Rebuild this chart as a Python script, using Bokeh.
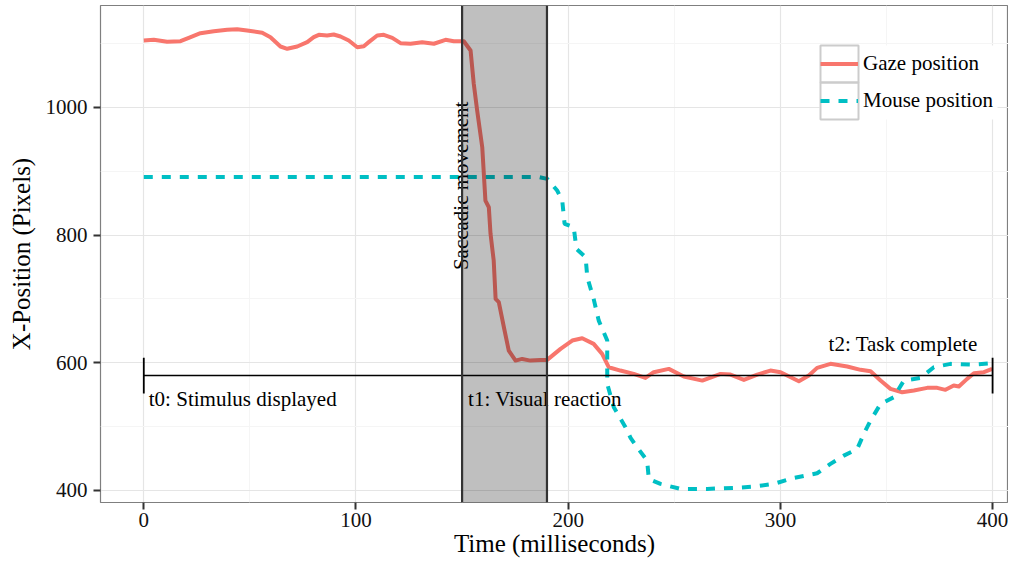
import math
from bokeh.plotting import figure
from bokeh.models import (ColumnDataSource, Legend, LegendItem, BoxAnnotation, Span,
                          Range1d, FixedTicker)
from bokeh.core.properties import value
from bokeh.embed import file_html
from bokeh.resources import INLINE

# ---------------- data ----------------
gaze_t = [0, 4.7, 11, 17.3, 21.2, 26.7, 33, 39.3, 44, 48.7, 55.8, 59.7, 64.4, 67.6, 72.3,
          77, 80.1, 82.5, 86.4, 89.5, 92.7, 96.6, 100.6, 103.7, 106, 110, 113.1, 117.1,
          121, 125.7, 131.2, 136.7, 142.2, 146.1, 149.3, 150.8, 154, 155.5, 157.1, 159.5,
          161, 162.6, 163.4, 164.9, 165.8, 167.3, 169.7, 172, 175.2, 178.3, 182.2, 186.9,
          190.1, 196.4, 201.9, 206.6, 212, 216, 219.1, 224.6, 230.9, 236.4, 240.3, 247.4,
          254.5, 263.2, 271.8, 276.5, 282.8, 289.1, 295.3, 300.1, 308.7, 313.4, 317.3,
          323.6, 331.5, 337.8, 342.5, 347.2, 351.9, 357.4, 362.9, 369.2, 373.9, 377.8,
          381.7, 384.1, 388, 391.2, 395.9, 399.8]
gaze_x = [1104.6, 1105.7, 1102.6, 1103.5, 1108.8, 1116, 1119.2, 1121.4, 1122.3, 1120.3,
          1116.7, 1109.8, 1095.2, 1091.6, 1095.2, 1102, 1109.8, 1113.5, 1112.5, 1114,
          1110.9, 1104.6, 1094.1, 1095.7, 1102, 1112.5, 1113.5, 1108.8, 1100.4, 1099.5,
          1102, 1099.5, 1105.7, 1103.5, 1103.5, 1103.5, 1089, 1036.8, 995, 937.5, 854,
          843.5, 801.9, 760, 700, 694.8, 655.6, 619, 603.4, 606, 603.4, 604.5, 604.5,
          621.8, 634.8, 638.4, 629.6, 613.9, 593, 587.8, 582.6, 576.3, 585.2, 590.4,
          578.4, 572.1, 582.6, 581.5, 573.2, 581.5, 587.8, 585.2, 571, 580, 592, 598.3,
          594.1, 588.9, 586.7, 572.1, 559.1, 553.8, 556.5, 560.7, 560.7, 557.6, 564.3,
          562.7, 574.8, 583.6, 585.2, 590.4]

mouse_t = [0, 186, 190.1, 194.8, 197.2, 198.3, 202.6, 203.9, 208.2, 209, 212, 214.4,
           218.4, 218.4, 221.5, 227, 229.4, 232.5, 237.2, 238, 243.5, 252.9, 265.5, 278,
           287.5, 296.9, 306.3, 317.3, 323.6, 329.9, 336.2, 339.3, 342.5, 347.2, 353.4,
           358.2, 366, 372.3, 380.2, 391.2, 399.8]
mouse_x = [891, 891, 888, 869.7, 854, 817.5, 812.2, 778.4, 765.2, 734, 700, 666, 634.8,
           566.9, 530.3, 499, 482.4, 467.7, 446.8, 418.1, 410.3, 402.5, 402.5, 404, 406.1,
           410.3, 419.7, 427, 441.6, 454.6, 465.1, 488.6, 509.5, 535.6, 546, 572.1, 576.3,
           593, 598.3, 597.2, 599.2]

event_t = [0, 150, 400]
event_labels = ["t0: Stimulus displayed", "t1: Visual reaction", "t2: Task complete"]
event_label_y = [544, 544, 629]
timeline_y = 580
tick_half = 28
saccade = [150, 190]
saccade_label = "Saccadic movement"
saccade_label_y = 877

x_ticks = [0, 100, 200, 300, 400]
y_ticks = [400, 600, 800, 1000]
series_labels = ["Gaze position", "Mouse position"]

RED = "#F8766D"
CYAN = "#00BFC4"
SERIF = "Liberation Serif"

# ---------------- layout geometry ----------------
W, H = 1008, 559
ML, MR, MT, MB = 100, 0, 5, 57
FW, FH = W - ML - MR, H - MT - MB
X0, X1 = -20.4, 407.5
Y0, Y1 = 381.2, 1159.4

p = figure(width=W, height=H, output_backend="svg", toolbar_location=None,
           x_range=Range1d(X0, X1), y_range=Range1d(Y0, Y1),
           min_border_left=ML, min_border_right=MR, min_border_top=MT, min_border_bottom=MB)
p.background_fill_color = "white"
p.border_fill_color = "white"
p.outline_line_color = "#7f7f7f"
p.outline_line_width = 1.2

for ax, ticks in ((p.xaxis[0], x_ticks), (p.yaxis[0], y_ticks)):
    step = ticks[1] - ticks[0]
    ax.ticker = FixedTicker(ticks=ticks,
                            minor_ticks=[t + step / 2 for t in [ticks[0] - step] + ticks])
    ax.axis_line_color = None
    ax.major_tick_line_color = "#333333"
    ax.major_tick_line_width = 2
    ax.major_tick_out = 7
    ax.major_tick_in = 0
    ax.minor_tick_line_color = None
    ax.major_label_text_font = SERIF
    ax.major_label_text_font_size = "21px"
    ax.major_label_text_color = "#111111"
    ax.axis_label_text_font = SERIF
    ax.axis_label_text_font_size = "25px"
    ax.axis_label_text_font_style = "normal"
    ax.axis_label_text_color = "black"

p.xaxis.axis_label = "Time (milliseconds)"
p.yaxis.axis_label = "X-Position (Pixels)"
p.xaxis.major_label_standoff = 3
p.xaxis.axis_label_standoff = 0
p.yaxis.major_label_standoff = 6
p.yaxis.axis_label_standoff = 8

p.grid.grid_line_color = "#e5e5e5"
p.grid.grid_line_width = 1.2
p.grid.minor_grid_line_color = "#f5f5f5"
p.grid.minor_grid_line_width = 1

# legend background + key boxes (glyph level, above grid)
def sx2data(px):
    return X0 + px / FW * (X1 - X0)

def sy2data(py_from_bottom):
    return Y0 + py_from_bottom / FH * (Y1 - Y0)

LEG_X, LEG_Y, KW, KH = 720, 383, 38, 37
p.rect(x=[sx2data(LEG_X + 88)], y=[sy2data(LEG_Y + KH)], width=178, height=2 * KH,
       width_units="screen", height_units="screen", fill_color="white", line_color=None)
p.rect(x=[sx2data(LEG_X + KW / 2)] * 2,
       y=[sy2data(LEG_Y + KH * 1.5), sy2data(LEG_Y + KH * 0.5)],
       width=KW, height=KH, width_units="screen", height_units="screen",
       fill_color=None, line_color="#cccccc", line_width=2)

# data lines
src_g = ColumnDataSource(dict(t=gaze_t, x=gaze_x))
src_m = ColumnDataSource(dict(t=mouse_t, x=mouse_x))
r_gaze = p.line("t", "x", source=src_g, line_color=RED, line_width=4, line_join="round")
r_mouse = p.line("t", "x", source=src_m, line_color=CYAN, line_width=4, line_dash="9 9")

# timeline
p.segment(x0=[event_t[0]], y0=[timeline_y], x1=[event_t[-1]], y1=[timeline_y],
          line_color="black", line_width=1.5)
p.segment(x0=event_t, y0=[timeline_y - tick_half] * len(event_t),
          x1=event_t, y1=[timeline_y + tick_half] * len(event_t),
          line_color="black", line_width=1.8)

lab_src = ColumnDataSource(dict(x=event_t, y=event_label_y, text=event_labels,
                                align=["left", "left", "right"], xo=[5, 6, -15]))
p.text(x="x", y="y", text="text", source=lab_src, text_align="align", x_offset="xo",
       text_baseline="middle", text_font=value(SERIF), text_font_size="21px",
       text_color="black")

# saccade band
band = BoxAnnotation(left=saccade[0], right=saccade[1], fill_color="black",
                     fill_alpha=0.25, line_color=None)
p.add_layout(band)
for s in saccade:
    p.add_layout(Span(location=s, dimension="height", line_color="#333333",
                      line_width=2.2))

p.text(x=[saccade[0]], y=[saccade_label_y], text=[saccade_label], angle=math.pi / 2,
       text_align="center", text_baseline="alphabetic", text_font=value(SERIF),
       text_font_size="21px", text_color="black", x_offset=-1)

# legend
legend = Legend(items=[LegendItem(label=series_labels[0], renderers=[r_gaze]),
                       LegendItem(label=series_labels[1], renderers=[r_mouse])],
                location=(LEG_X, LEG_Y), orientation="vertical",
                glyph_width=KW, glyph_height=KH, spacing=0, padding=0, margin=0,
                label_standoff=5, label_text_font=SERIF, label_text_font_size="21px",
                label_text_color="black", border_line_color=None,
                background_fill_alpha=0.0, label_height=KH)
p.add_layout(legend)

open("out.html", "w").write(file_html(p, INLINE))
